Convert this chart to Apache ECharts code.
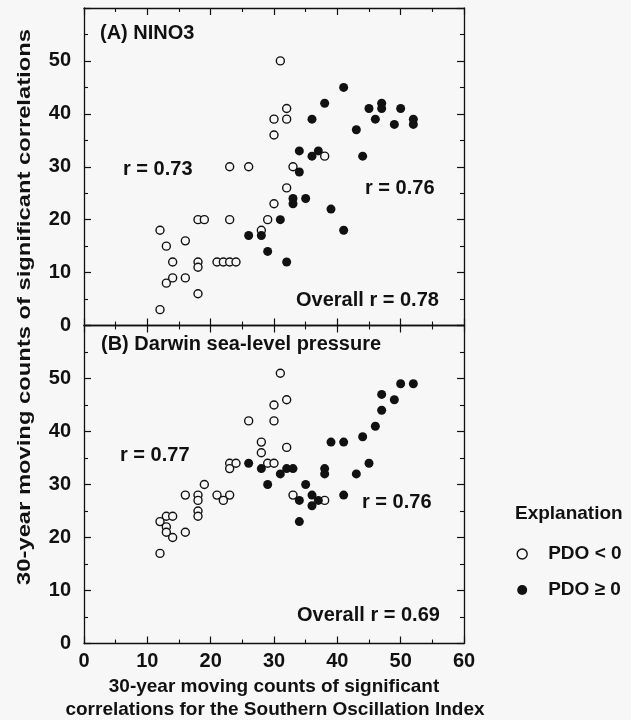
<!DOCTYPE html>
<html>
<head>
<meta charset="utf-8">
<script src="https://cdn.jsdelivr.net/npm/echarts@6/dist/echarts.min.js"></script>
<style>
html,body{margin:0;padding:0;background:#f7f7f7;}
#chart{width:631px;height:720px;}
</style>
</head>
<body>
<div id="chart"></div>
<script>
// Panel A: NINO3 — [SOI count, NINO3 count]
const ninoPdoNeg = [[31,50],[30,39],[30,36],[32,41],[32,39],[23,30],[26,30],[30,23],[29,20],[18,20],[19,20],[23,20],[12,18],[13,15],[16,16],[14,12],[18,12],[18,11],[21,12],[22,12],[23,12],[24,12],[13,8],[14,9],[16,9],[18,6],[12,3],[28,18],[38,32],[33,30],[32,26]];
const ninoPdoPos = [[26,17],[28,17],[29,14],[31,20],[32,12],[33,24],[33,23],[35,24],[34,29],[34,33],[36,32],[37,33],[36,39],[38,42],[41,45],[39,22],[41,18],[43,37],[44,32],[45,41],[46,39],[47,42],[47,41],[49,38],[50,41],[52,39],[52,38]];
// Panel B: Darwin sea-level pressure
const darwinPdoNeg = [[31,51],[30,45],[30,42],[26,42],[32,46],[28,38],[28,36],[32,37],[23,34],[23,33],[24,34],[29,34],[30,34],[19,30],[16,28],[18,28],[18,27],[21,28],[23,28],[22,27],[18,25],[18,24],[13,24],[14,24],[12,23],[13,22],[13,21],[14,20],[16,21],[12,17],[33,28],[38,27]];
const darwinPdoPos = [[26,34],[28,33],[29,30],[31,32],[32,33],[33,33],[35,30],[34,27],[36,28],[36,26],[37,27],[34,23],[38,33],[38,32],[39,38],[41,38],[41,28],[43,32],[44,39],[45,34],[46,41],[47,44],[47,47],[49,46],[50,49],[52,49]];

const seriesNames = ['PDO < 0', 'PDO \u2265 0'];
const panelTitles = ['(A) NINO3', '(B) Darwin sea-level pressure'];
const panelA_r = ['r = 0.73', 'r = 0.76', 'Overall r = 0.78'];
const panelB_r = ['r = 0.77', 'r = 0.76', 'Overall r = 0.69'];
const xTitle = ['30-year moving counts of significant', 'correlations for the Southern Oscillation Index'];
const yTitle = '30-year moving counts of significant correlations';
const axisMin = 0, axisMax = 60, axisStep = 10;

const BG = '#f7f7f7';
const INK = '#111';
const FONT = "'Liberation Sans', Arial, Helvetica, sans-serif";

const chart = echarts.init(document.getElementById('chart'));

function valAxis(gridIndex, pos, showLabel, extra) {
  return Object.assign({
    type: 'value', gridIndex: gridIndex, position: pos,
    min: axisMin, max: axisMax, interval: axisStep,
    axisLine: { show: true, onZero: false, lineStyle: { color: INK, width: 1.3 } },
    axisTick: { show: true, inside: true, length: 7, lineStyle: { color: INK, width: 1.2 } },
    minorTick: { show: true, splitNumber: 2, length: 4, lineStyle: { color: INK, width: 1.1 } },
    splitLine: { show: false },
    axisLabel: {
      show: showLabel, color: INK, fontFamily: FONT, fontWeight: 'bold', fontSize: 20,
      formatter: function (v) { return v === axisMax ? '' : String(v); }
    }
  }, extra || {});
}

function txt(x, y, s, align, size) {
  return {
    type: 'text', x: x, y: y, silent: true,
    style: {
      text: s, fill: INK, font: 'bold ' + (size || 20) + 'px ' + FONT,
      textAlign: align || 'left', textVerticalAlign: 'middle', verticalAlign: 'middle'
    }
  };
}

const openStyle = { color: BG, borderColor: INK, borderWidth: 1.4, opacity: 1 };
const fillStyle = { color: INK, borderColor: INK, borderWidth: 0, opacity: 1 };

const option = {
  backgroundColor: BG,
  animation: false,
  grid: [
    { left: 84, top: 8, width: 380, height: 317.5 },
    { left: 84, top: 325.5, width: 380, height: 318 }
  ],
  xAxis: [
    valAxis(0, 'bottom', false),
    valAxis(0, 'top', false),
    valAxis(1, 'bottom', true, { axisLabel: {
      show: true, color: INK, fontFamily: FONT, fontWeight: 'bold', fontSize: 20, margin: 8 } }),
    valAxis(1, 'top', false)
  ],
  yAxis: [
    valAxis(0, 'left', true, { axisLabel: {
      show: true, color: INK, fontFamily: FONT, fontWeight: 'bold', fontSize: 20, margin: 13,
      formatter: function (v) { return v === axisMax ? '' : String(v); } } }),
    valAxis(0, 'right', false),
    valAxis(1, 'left', true, { axisLabel: {
      show: true, color: INK, fontFamily: FONT, fontWeight: 'bold', fontSize: 20, margin: 13,
      formatter: function (v) { return v === axisMax ? '' : String(v); } } }),
    valAxis(1, 'right', false)
  ],
  legend: {
    orient: 'vertical', left: 511.5, top: 539, itemWidth: 10, itemHeight: 10, itemGap: 16,
    icon: 'circle',
    textStyle: { color: INK, fontFamily: FONT, fontWeight: 'bold', fontSize: 19, lineHeight: 20, padding: [0, 0, 0, 16] },
    data: [
      { name: seriesNames[0], itemStyle: openStyle },
      { name: seriesNames[1], itemStyle: fillStyle }
    ]
  },
  series: [
    { name: seriesNames[0], type: 'scatter', xAxisIndex: 0, yAxisIndex: 0, data: ninoPdoNeg,
      symbol: 'circle', symbolSize: 8, itemStyle: openStyle, z: 3 },
    { name: seriesNames[1], type: 'scatter', xAxisIndex: 0, yAxisIndex: 0, data: ninoPdoPos,
      symbol: 'circle', symbolSize: 9, itemStyle: fillStyle, z: 4 },
    { name: seriesNames[0], type: 'scatter', xAxisIndex: 2, yAxisIndex: 2, data: darwinPdoNeg,
      symbol: 'circle', symbolSize: 8, itemStyle: openStyle, z: 3 },
    { name: seriesNames[1], type: 'scatter', xAxisIndex: 2, yAxisIndex: 2, data: darwinPdoPos,
      symbol: 'circle', symbolSize: 9, itemStyle: fillStyle, z: 4 }
  ],
  graphic: [
    txt(100, 33, panelTitles[0]),
    txt(123, 169, panelA_r[0]),
    txt(365, 188, panelA_r[1]),
    txt(296, 300, panelA_r[2]),
    txt(101, 344, panelTitles[1]),
    txt(120, 455, panelB_r[0]),
    txt(362, 502, panelB_r[1]),
    txt(297, 615.5, panelB_r[2]),
    txt(274, 687, xTitle[0], 'center', 19),
    txt(275, 710, xTitle[1], 'center', 19),
    txt(515, 514, 'Explanation', 'left', 19),
    {
      type: 'text', x: 25, y: 307, rotation: Math.PI / 2, scaleX: 1.32, scaleY: 1, silent: true,
      style: {
        text: yTitle, fill: INK, font: 'bold 18px ' + FONT,
        textAlign: 'center', textVerticalAlign: 'middle', verticalAlign: 'middle'
      }
    }
  ]
};
chart.setOption(option);
</script>
</body>
</html>
